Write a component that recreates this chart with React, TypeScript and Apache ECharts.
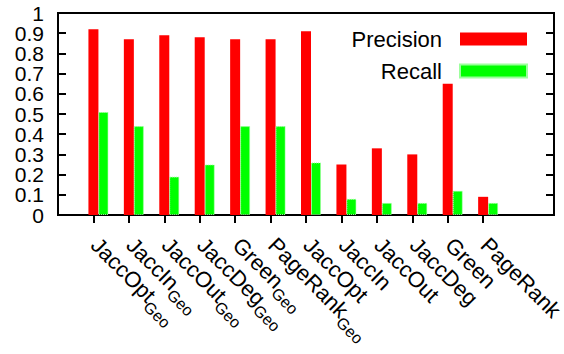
import React, { useEffect, useRef } from "react";
import * as echarts from "echarts";

const categories = ["JaccOpt", "JaccIn", "JaccOut", "JaccDeg", "Green", "PageRank", "JaccOpt", "JaccIn", "JaccOut", "JaccDeg", "Green", "PageRank"];
const subscripts = ["Geo", "Geo", "Geo", "Geo", "Geo", "Geo", "", "", "", "", "", ""];
const precision = [0.92, 0.87, 0.89, 0.88, 0.87, 0.87, 0.91, 0.25, 0.33, 0.30, 0.65, 0.09];
const recall = [0.51, 0.44, 0.19, 0.25, 0.44, 0.44, 0.26, 0.08, 0.06, 0.06, 0.12, 0.06];
const yTickLabels = ["0", "0.1", "0.2", "0.3", "0.4", "0.5", "0.6", "0.7", "0.8", "0.9", "1"];
const seriesNames = ["Precision", "Recall"];

const FONT = "Liberation Sans, Arial, sans-serif";

export default function App() {
  const ref = useRef<HTMLDivElement>(null);
  useEffect(() => {
    if (!ref.current) return;
    const chart = echarts.init(ref.current, undefined, { renderer: "svg" });
    // one empty slot before, two after the 12 categories
    const slots = ["s0", ...categories.map((_, i) => "c" + (i + 1)), "s13", "s14"];
    const pad = (arr: number[]) => ["-", ...arr, "-", "-"];
    const inRange = (idx: number) => idx >= 1 && idx <= categories.length;
    const tickStyle = { color: "#000", width: 2 };
    const option: any = {
      animation: false,
      textStyle: { fontFamily: FONT },
      grid: {
        left: 58,
        right: 10,
        top: 13,
        bottom: 139,
        show: true,
        borderColor: "#000",
        borderWidth: 2,
        containLabel: false,
        outerBoundsMode: "none",
      },
      legend: {
        data: seriesNames,
        orient: "vertical",
        align: "right",
        right: 36,
        top: 28,
        padding: 0,
        itemWidth: 67,
        itemHeight: 13,
        itemGap: 10,
        icon: "rect",
        textStyle: { fontFamily: FONT, fontSize: 22, color: "#000", lineHeight: 13, padding: [0, 13, 0, 0] },
      },
      xAxis: {
        type: "category",
        data: slots,
        boundaryGap: false,
        axisLine: { lineStyle: tickStyle },
        axisTick: { interval: (idx: number) => inRange(idx), length: 8, lineStyle: tickStyle },
        axisLabel: {
          interval: 0,
          rotate: -45,
          margin: 25,
          hideOverlap: false,
          color: "#000",
          formatter: (_v: string, idx: number) => {
            const i = idx - 1;
            if (i < 0 || i >= categories.length) return "";
            return subscripts[i] ? `{m|${categories[i]}}{s|${subscripts[i]}}` : `{n|${categories[i]}}`;
          },
          rich: {
            m: { fontFamily: FONT, fontSize: 22, lineHeight: 22, verticalAlign: "top", padding: [0, 0, 0, 2], color: "#000" },
            n: { fontFamily: FONT, fontSize: 22, lineHeight: 22, verticalAlign: "top", padding: [0, 0, 5, 2], color: "#000" },
            s: { fontFamily: FONT, fontSize: 16, lineHeight: 16, verticalAlign: "top", padding: [11, 0, 0, 0], color: "#000" },
          },
        },
        splitLine: { show: false },
      },
      yAxis: [
        {
          type: "value",
          min: 0,
          max: 1,
          interval: 0.1,
          position: "left",
          axisLine: { show: true, lineStyle: tickStyle },
          axisTick: { show: true, inside: true, length: 8, lineStyle: tickStyle },
          axisLabel: { show: false },
          splitLine: { show: false },
        },
        {
          type: "category",
          data: yTickLabels,
          boundaryGap: false,
          position: "left",
          axisLine: { show: false },
          axisTick: { show: false },
          axisLabel: {
            interval: 0,
            fontFamily: FONT,
            fontSize: 21,
            lineHeight: 16,
            color: "#000",
            margin: 14,
            padding: [4, 0, 0, 0],
          },
          splitLine: { show: false },
        },
        {
          type: "value",
          min: 0,
          max: 1,
          interval: 0.1,
          position: "right",
          axisLine: { show: true, lineStyle: tickStyle },
          axisTick: { show: true, inside: true, length: 8, lineStyle: tickStyle },
          axisLabel: { show: false },
          splitLine: { show: false },
        },
      ],
      series: [
        {
          name: "_spacer",
          type: "bar",
          data: pad(precision).map(() => "-"),
          barWidth: 10,
          barGap: 0,
          itemStyle: { color: "transparent" },
          silent: true,
        },
        {
          name: seriesNames[0],
          type: "bar",
          data: pad(precision),
          barWidth: 10,
          barGap: 0,
          itemStyle: { color: "#ff0000" },
        },
        {
          name: seriesNames[1],
          type: "bar",
          data: pad(recall),
          barWidth: 10,
          barGap: 0,
          itemStyle: { color: "#00ff00", borderColor: "#9cff9c", borderWidth: 1, borderType: "dotted" },
        },
      ],
    };
    chart.setOption(option);
    return () => chart.dispose();
  }, []);
  return <div ref={ref} style={{ width: 564, height: 354, position: "absolute", left: 0, top: 0, background: "#fff" }} />;
}
